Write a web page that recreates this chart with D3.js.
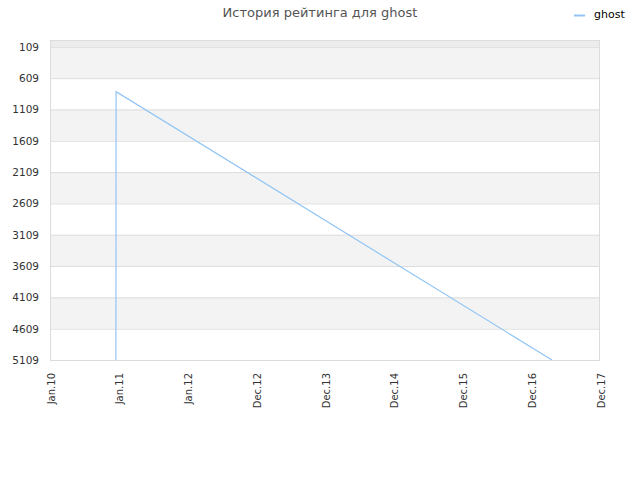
<!DOCTYPE html>
<html><head><meta charset="utf-8">
<script src="https://cdn.jsdelivr.net/npm/d3@7"></script>
<style>body{margin:0;background:#fff;} svg{display:block;font-family:"DejaVu Sans",sans-serif;}</style>
</head><body>
<svg id="c" width="640" height="480"></svg>
<script>
const title = "История рейтинга для ghost";
const seriesName = "ghost";
const dates = ["2010-12-17", "2010-12-18", "2017-04-20"];
const ranks = [5109, 825, 5109];
const yTicks = [109, 609, 1109, 1609, 2109, 2609, 3109, 3609, 4109, 4609, 5109];
const xStart = "2010-01-01", xEnd = "2017-12-31";

const svg = d3.select("#c");
const m = {l: 50, r: 600, t: 40, b: 360};
const parse = d3.utcParse("%Y-%m-%d");
const x = d3.scaleUtc().domain([parse(xStart), parse(xEnd)]).range([m.l, m.r]);
const y = d3.scaleLinear().domain([0, 5109]).range([m.t, m.b]);

// bands
const bands = [[0, 109]].concat(d3.range(yTicks.length - 1).map(i => [yTicks[i], yTicks[i + 1]]));
svg.append("g").selectAll("rect").data(bands).join("rect")
  .attr("x", m.l).attr("width", m.r - m.l)
  .attr("y", d => y(d[0])).attr("height", d => y(d[1]) - y(d[0]))
  .attr("fill", (d, i) => i === 0 ? "#ececec" : (i % 2 === 1 ? "#f3f3f3" : "#ffffff"));

// grid lines
svg.append("g").selectAll("line").data(yTicks).join("line")
  .attr("x1", m.l).attr("x2", m.r).attr("y1", d => y(d) + 0.5).attr("y2", d => y(d) + 0.5)
  .attr("stroke", "#dddddd").attr("stroke-width", 1);

// frame
svg.append("rect").attr("x", m.l + 0.5).attr("y", m.t + 0.5)
  .attr("width", m.r - m.l - 1).attr("height", m.b - m.t)
  .attr("fill", "none").attr("stroke", "#dcdcdc");

// y axis labels
const yAxis = d3.axisLeft(y).tickValues(yTicks).tickFormat(d3.format("d")).tickSize(0).tickPadding(11);
const gy = svg.append("g").attr("transform", `translate(${m.l},0)`).call(yAxis);
gy.select(".domain").remove();
gy.selectAll("text").attr("font-size", 10.5).attr("fill", "#333").attr("font-family", "DejaVu Sans");

// x axis
const t0 = parse(xStart).getTime(), t1 = parse(xEnd).getTime();
const xTickVals = d3.range(9).map(k => new Date(t0 + k * (t1 - t0) / 8));
const fmt = d3.utcFormat("%b.%y");
const xAxis = d3.axisBottom(x).tickValues(xTickVals).tickFormat(fmt).tickSize(0).tickPadding(0);
const gx = svg.append("g").attr("transform", `translate(0,${m.b})`).call(xAxis);
gx.select(".domain").remove();
gx.selectAll("text").attr("font-size", 10).attr("fill", "#333").attr("font-family", "DejaVu Sans")
  .attr("text-anchor", "end").attr("dy", null).attr("y", 0)
  .attr("transform", "translate(4,13) rotate(-90)");

// line
svg.append("defs").append("clipPath").attr("id", "clip").append("rect")
  .attr("x", m.l).attr("y", m.t).attr("width", m.r - m.l).attr("height", m.b - m.t);
const pts = dates.map((d, i) => [parse(d), ranks[i]]);
svg.append("path").datum(pts).attr("clip-path", "url(#clip)")
  .attr("d", d3.line().x(d => x(d[0])).y(d => y(d[1])))
  .attr("fill", "none").attr("stroke", "#92c5f5").attr("stroke-width", 1.2);

// title
svg.append("text").attr("x", 320).attr("y", 17).attr("text-anchor", "middle")
  .attr("font-size", 13).attr("fill", "#555").text(title);

// legend
svg.append("line").attr("x1", 574).attr("x2", 585).attr("y1", 15.5).attr("y2", 15.5)
  .attr("stroke", "#92c5f5").attr("stroke-width", 2);
svg.append("text").attr("x", 594).attr("y", 18).attr("font-size", 11).attr("fill", "#000").text(seriesName);
</script>
</body></html>
